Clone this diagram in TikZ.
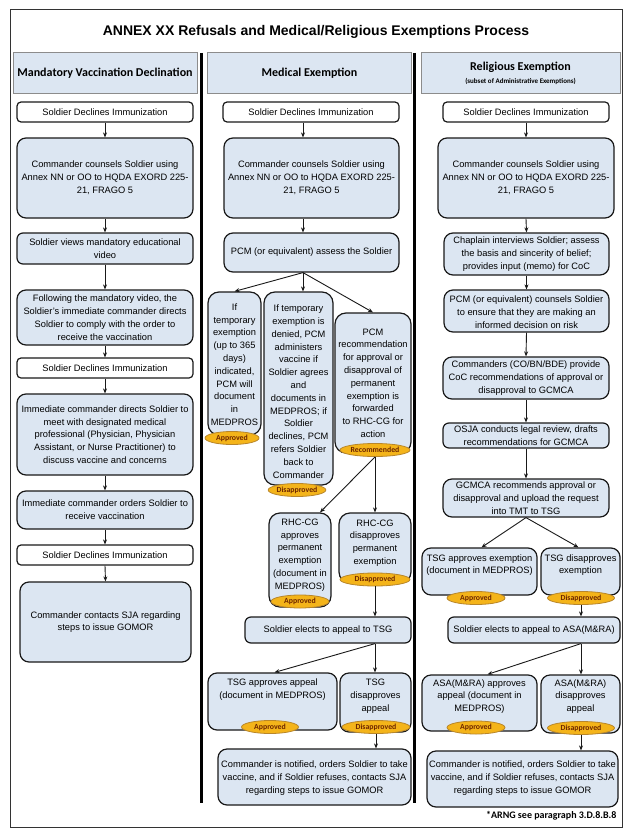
\documentclass[tikz,border=0pt]{standalone}
\usepackage{fontspec}
\setmainfont{Liberation Sans}
\newfontfamily\hdrfont{Carlito}
\usetikzlibrary{arrows.meta,shapes.geometric}
\definecolor{boxblue}{HTML}{DCE6F2}
\definecolor{hdrblue}{HTML}{DCE6F2}
\definecolor{badgefill}{HTML}{F4B41A}
\definecolor{badgedraw}{HTML}{B8862A}
\definecolor{badgetext}{HTML}{6E2600}
\tikzset{
  box/.style={draw=black!90, line width=1.2pt, fill=boxblue, rounded corners=9pt, inner sep=0pt},
  sbox/.style={box, rounded corners=6pt},
  tbox/.style={box, rounded corners=11pt},
  wbox/.style={box, fill=white, rounded corners=4pt},
  txt/.style={align=center, font=\fontsize{9.3}{12.8}\selectfont, inner sep=0pt},
  badge/.style={ellipse, fill=badgefill, draw=badgedraw, line width=0.8pt, minimum height=13pt, inner sep=0pt,
    font=\hdrfont\bfseries\fontsize{7.8}{8}\selectfont, text=badgetext},
  hdr/.style={fill=hdrblue, draw=black!45, line width=1pt, align=center, inner sep=0pt,
    font=\hdrfont\bfseries\fontsize{12}{14}\selectfont},
  arr/.style={-{Stealth[length=5pt,width=4pt]}, line width=0.9pt, draw=black!90},
}
% name, x1, y1, x2, y2, style, text down-shift, text
\newcommand\bx[8]{%
  \pgfmathsetmacro\bxw{#4-#2}\pgfmathsetmacro\bxh{#5-#3}%
  \pgfmathsetmacro\bxcx{(#2+#4)/2}\pgfmathsetmacro\bxcy{(#3+#5)/2}%
  \pgfmathsetmacro\bxty{(#3+#5)/2+#7}%
  \node[#6, minimum width=\bxw pt, minimum height=\bxh pt] (#1) at (\bxcx,\bxcy) {};%
  \node[txt] (#1-t) at (\bxcx,\bxty) {#8};}
% name, cx, cy, width, text
\newcommand\bdg[5]{\node[badge, minimum width=#4pt] (#1) at (#2,#3) {#5};}
\begin{document}
\begin{tikzpicture}[x=1pt,y=-1pt]
\useasboundingbox (0,0) rectangle (634,840);
\fill[white] (0,0) rectangle (634,840);
\draw[line width=1pt, draw=black!80] (10,10) rectangle (622,827);
\node[font=\bfseries\fontsize{14}{16}\selectfont] (title) at (316,32) {ANNEX XX Refusals and Medical/Religious Exemptions Process};
\node[hdr, minimum width=184pt, minimum height=41pt] (h1) at (105,73.5) {Mandatory Vaccination Declination};
\node[hdr, minimum width=204pt, minimum height=41pt] (h2) at (309.5,73.5) {Medical Exemption};
\node[hdr, minimum width=199pt, minimum height=41pt] (h3) at (520.5,73.5) {Religious Exemption\\[-1pt]{\fontsize{7}{8}\selectfont (subset of Administrative Exemptions)}};
\draw[line width=3pt] (201.5,53) -- (201.5,803);
\draw[line width=3pt] (414.5,53) -- (414.5,803);
\coordinate (cm) at (303,0);
% ---------- left column
\bx{L1}{17}{102}{193}{122}{wbox}{0}{Soldier Declines Immunization}
\bx{L2}{17}{138}{193}{218}{box}{0}{Commander counsels Soldier using\\Annex NN or OO to HQDA EXORD 225-\\21, FRAGO 5}
\bx{L3}{17}{233}{193}{264}{sbox}{0}{Soldier views mandatory educational\\video}
\bx{L4}{17}{290}{193}{345}{box}{0}{Following the mandatory video, the\\Soldier's immediate commander directs\\Soldier to comply with the order to\\receive the vaccination}
\bx{L5}{17}{358}{193}{378}{wbox}{0}{Soldier Declines Immunization}
\bx{L6}{17}{394}{193}{475}{box}{0}{Immediate commander directs Soldier to\\meet with designated medical\\professional (Physician, Physician\\Assistant, or Nurse Practitioner) to\\discuss vaccine and concerns}
\bx{L7}{17}{491}{193}{529}{box}{0}{Immediate commander orders Soldier to\\receive vaccination}
\bx{L8}{17}{545}{193}{565}{wbox}{0}{Soldier Declines Immunization}
\bx{L9}{20}{582}{191}{662}{box}{0}{Commander contacts SJA regarding\\steps to issue GOMOR}
\foreach \a/\b in {L1/L2,L2/L3,L3/L4,L4/L5,L5/L6,L6/L7,L7/L8,L8/L9}
  \draw[arr] (\a.south) -- (\b.north);
% ---------- middle column
\bx{M1}{223}{102}{399}{122}{wbox}{0}{Soldier Declines Immunization}
\bx{M2}{224}{138}{399}{218}{box}{0}{Commander counsels Soldier using\\Annex NN or OO to HQDA EXORD 225-\\21, FRAGO 5}
\bx{M3}{224}{233}{399}{272}{box}{0}{PCM (or equivalent) assess the Soldier}
\bx{M4a}{208}{292}{261}{435}{tbox}{1}{If\\temporary\\exemption\\(up to 365\\days)\\indicated,\\PCM will\\document\\in\\MEDPROS}
\bx{M4b}{264}{292}{333}{485}{tbox}{3}{If temporary\\exemption is\\denied, PCM\\administers\\vaccine if\\Soldier agrees\\and\\documents in\\MEDPROS; if\\Soldier\\declines, PCM\\refers Soldier\\back to\\Commander}
\bx{M4c}{335}{313}{411}{453}{tbox}{0}{PCM\\recommendation\\for approval or\\disapproval of\\permanent\\exemption is\\forwarded\\to RHC-CG for\\action}
\bx{M5a}{269}{513}{331}{607}{tbox}{-5}{RHC-CG\\approves\\permanent\\exemption\\(document in\\MEDPROS)}
\bx{M5b}{339}{513}{411}{583}{tbox}{-5}{RHC-CG\\disapproves\\permanent\\exemption}
\bx{M6}{245}{617}{411}{643}{sbox}{0}{Soldier elects to appeal to TSG}
\bx{M7a}{208}{673}{337}{730}{box}{-12}{TSG approves appeal\\(document in MEDPROS)}
\bx{M7b}{340}{673}{411}{732}{box}{-6}{TSG\\disapproves\\appeal}
\bx{M8}{218}{749}{411}{805}{box}{1}{Commander is notified, orders Soldier to take\\vaccine, and if Soldier refuses, contacts SJA\\regarding steps to issue GOMOR}
\bdg{b4a}{232}{438}{54}{Approved}
\bdg{b4b}{297}{490}{57}{Disapproved}
\bdg{b4c}{375}{450}{70}{Recommended}
\bdg{b5a}{300}{601.5}{58}{Approved}
\bdg{b5b}{375}{579.5}{70}{Disapproved}
\bdg{b7a}{270}{727}{57}{Approved}
\bdg{b7b}{376}{727}{68}{Disapproved}
\draw[arr] (M1.south -| cm) -- (M2.north -| cm);
\draw[arr] (M2.south -| cm) -- (M3.north -| cm);
\draw[arr] (M3.south -| cm) -- (M4a.north);
\draw[arr] (M3.south -| cm) -- (M4b.north -| cm);
\draw[arr] (M3.south -| cm) -- (M4c.north);
\draw[arr] (b4c.south) -- ([xshift=20pt]M5a.north);
\draw[arr] (b4c.south) -- (M5b.north -| b4c);
\draw[arr] (b5b.south) -- (M6.north -| b5b);
\draw[arr] (M6.south -| b5b) -- ([xshift=2pt]M7a.north);
\draw[arr] (M6.south -| b5b) -- (M7b.north -| b5b);
\draw[arr] (b7b.south) -- (M8.north -| b7b);
% ---------- right column
\bx{R1}{443}{102}{609}{122}{wbox}{0}{Soldier Declines Immunization}
\bx{R2}{438}{138}{614}{218}{box}{0}{Commander counsels Soldier using\\Annex NN or OO to HQDA EXORD 225-\\21, FRAGO 5}
\bx{R3}{444}{233}{609}{275}{box}{0}{Chaplain interviews Soldier; assess\\the basis and sincerity of belief;\\provides input (memo) for CoC}
\bx{R4}{444}{290}{609}{332}{box}{1}{PCM (or equivalent) counsels Soldier\\to ensure that they are making an\\informed decision on risk}
\bx{R5}{443}{357}{609}{399}{box}{0}{Commanders (CO/BN/BDE) provide\\CoC recommendations of approval or\\disapproval to GCMCA}
\bx{R6}{443}{423}{609}{448}{sbox}{0}{OSJA conducts legal review, drafts\\recommendations for GCMCA}
\bx{R7}{443}{479}{609}{517}{box}{0}{GCMCA recommends approval or\\disapproval and upload the request\\into TMT to TSG}
\bx{R8a}{422}{548}{537}{595}{box}{-6.5}{TSG approves exemption\\(document in MEDPROS)}
\bx{R8b}{541}{548}{620}{595}{box}{-6.5}{TSG disapproves\\exemption}
\bx{R9}{448}{617}{620}{643}{sbox}{0}{Soldier elects to appeal to ASA(M\&RA)}
\bx{R10a}{422}{675}{537}{731}{box}{-6.5}{ASA(M\&RA) approves\\appeal (document in\\MEDPROS)}
\bx{R10b}{541}{675}{620}{733}{box}{-7.5}{ASA(M\&RA)\\disapproves\\appeal}
\bx{R11}{427}{751}{618}{807}{box}{-1}{Commander is notified, orders Soldier to take\\vaccine, and if Soldier refuses, contacts SJA\\regarding steps to issue GOMOR}
\bdg{b8a}{476}{598}{58}{Approved}
\bdg{b8b}{581}{598}{67}{Disapproved}
\bdg{b10a}{476}{727.5}{58}{Approved}
\bdg{b10b}{581}{728}{67}{Disapproved}
\foreach \a/\b in {R1/R2,R2/R3,R3/R4,R4/R5,R5/R6,R6/R7}
  \draw[arr] (\a.south) -- (\b.north);
\draw[arr] (R7.south) -- ([xshift=2pt]R8a.north);
\draw[arr] (R7.south) -- ([xshift=-2pt]R8b.north);
\draw[arr] (b8b.south) -- (R9.north -| b8b);
\draw[arr] (R9.south -| b8b) -- ([xshift=8pt]R10a.north);
\draw[arr] (R9.south -| b8b) -- (R10b.north -| b8b);
\draw[arr] (b10b.south) -- (R11.north -| b10b);
\node[anchor=base east, font=\hdrfont\bfseries\fontsize{10}{12}\selectfont] (note) at (620,818) {*ARNG see paragraph 3.D.8.B.8};
\end{tikzpicture}
\end{document}
